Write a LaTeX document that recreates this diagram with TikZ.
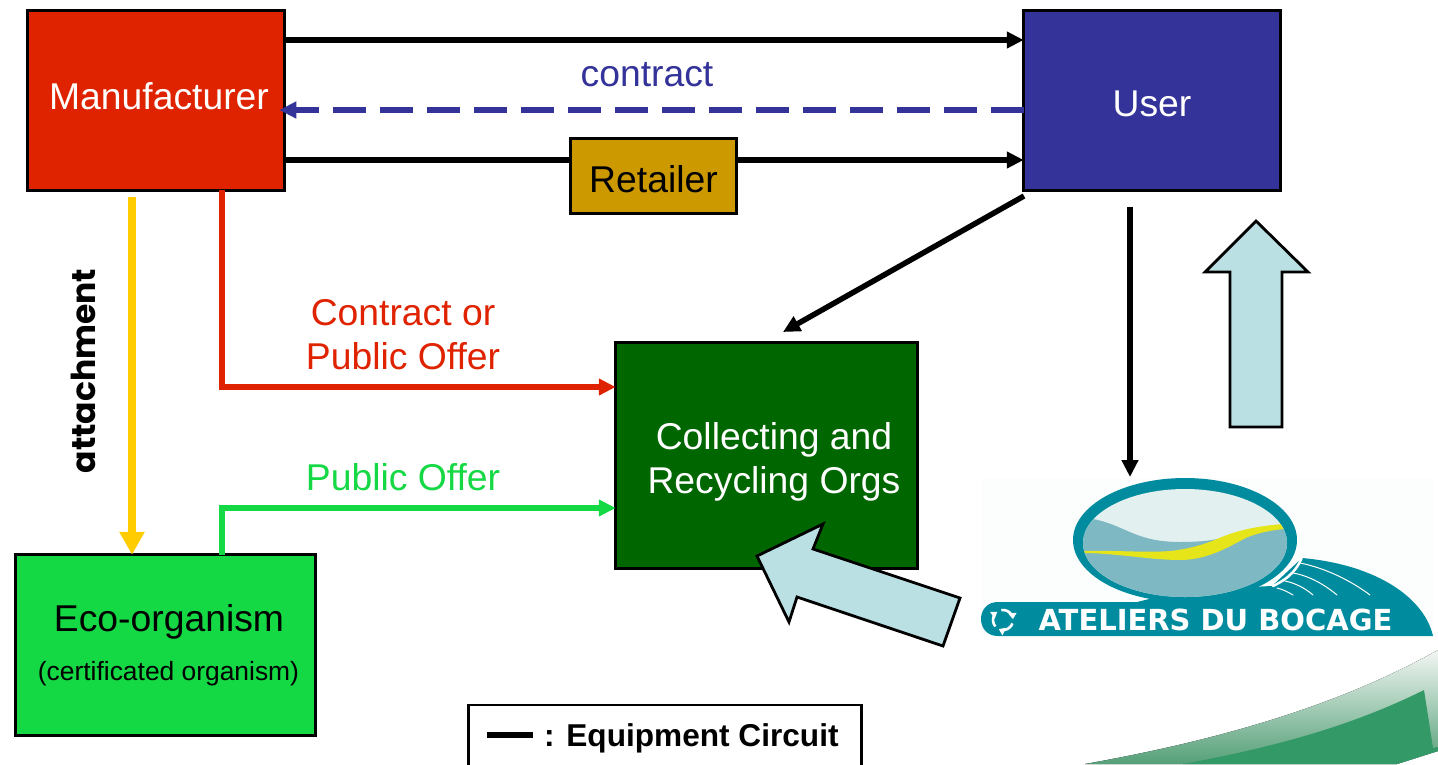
\documentclass[tikz,border=0pt]{standalone}
\usepackage{fontspec}
\setmainfont{Liberation Sans}
\newfontfamily\handfont{Poppins}
\newfontfamily\logofont{DejaVu Sans}
\usetikzlibrary{arrows.meta,calc}
\definecolor{redc}{HTML}{DF2300}
\definecolor{bluec}{HTML}{333399}
\definecolor{goldc}{HTML}{CC9900}
\definecolor{dgreen}{HTML}{006600}
\definecolor{lgreen}{HTML}{14D844}
\definecolor{yellowc}{HTML}{FFCC00}
\definecolor{paleblue}{HTML}{BAE0E3}
\definecolor{teal2}{HTML}{008C9E}
\definecolor{water}{HTML}{7DB8C3}
\definecolor{sky}{HTML}{E3F0F0}
\definecolor{lemon}{HTML}{E5E51A}
\definecolor{swoosh}{HTML}{339966}
\definecolor{swtop}{HTML}{F2F6F3}
\definecolor{swbot}{HTML}{55A078}
\tikzset{
  box/.style={draw=black,line width=2.8pt,inner sep=0pt,outer sep=0pt,rectangle},
  txt/.style={font=\fontsize{37.3}{37.3}\selectfont,inner sep=0pt,outer sep=0pt,align=center},
  link/.style={line width=5.5pt,-{Triangle[length=17pt,width=16pt]}},
  bigarrow/.style={draw=black,line width=2.8pt,fill=paleblue,miter limit=10},
}
\begin{document}
\begin{tikzpicture}[x=1pt,y=-1pt]
\useasboundingbox (0,0) rectangle (1438,764);
\clip (0,0) rectangle (1438,764);
% swoosh
\fill[top color=swtop,bottom color=swbot]
  (1085,764) .. controls (1220,740) and (1340,705) .. (1438,650) -- (1438,751) -- (1397,764) -- cycle;
\fill[swoosh] (1183,764) .. controls (1270,748) and (1350,727) .. (1424,690) -- (1433,748) -- (1438,747) -- (1438,751) -- (1397,764) -- cycle;
% logo
\fill[white!99!teal2] (981,478) rectangle (1433,636);
\fill[teal2] (998,602) .. controls (987,602) and (981,610) .. (981,619) .. controls (981,628) and (987,636) .. (998,636) -- (1433,636)
  .. controls (1425,600) and (1380,565) .. (1302,558) -- (1272,586) -- (1185,590) -- (1137,602) -- cycle;
\draw[white,line width=2.5pt,line cap=round] (1302,557) .. controls (1298,568) and (1290,578) .. (1273,586);
\fill[teal2] (1185,540) ellipse[x radius=112,y radius=62];
\begin{scope}
  \clip (1185,543) ellipse[x radius=102,y radius=54];
  \fill[sky] (1080,485) rectangle (1290,600);
  \fill[water] (1080,517) -- (1093,519) .. controls (1125,525) and (1135,542) .. (1180,542) .. controls (1195,542) and (1208,541) .. (1217,539) -- (1290,524) -- (1290,600) -- (1080,600) -- cycle;
  \fill[lemon] (1083,551) .. controls (1115,550) and (1145,553) .. (1170,551) .. controls (1190,549) and (1205,544) .. (1217,539) .. controls (1240,529) and (1260,526) .. (1283,524) -- (1284,529) .. controls (1265,531) and (1250,535) .. (1240,541) .. controls (1225,549) and (1205,560) .. (1180,560) .. controls (1150,560) and (1115,553) .. (1083,553) -- cycle;
\end{scope}
\draw[white,line width=1pt,line cap=round]
  (1300,563) .. controls (1325,568) and (1350,580) .. (1370,595)
  (1293,573) .. controls (1310,576) and (1325,585) .. (1337,595)
  (1285,581) .. controls (1295,583) and (1305,588) .. (1313,595)
  (1277,588) .. controls (1282,589) and (1288,592) .. (1293,595);
\node[inner sep=0pt,text=white,font=\logofont\bfseries\fontsize{29}{29}\selectfont] (logotext) at (1215.5,620) {ATELIERS DU BOCAGE};
\foreach \a in {20,140,260}{
  \draw[white,line width=2.6pt,-{Triangle[length=6pt,width=8pt]}] (1003,620) ++(\a:10) arc[start angle=\a,end angle=\a+95,radius=10];
}
% boxes
\node[box,fill=redc,minimum width=256.5pt,minimum height=179.5pt] (man) at (156,100.5) {};
\node[box,fill=bluec,minimum width=256.5pt,minimum height=179.5pt] (user) at (1152,100.5) {};
\node[box,fill=goldc,minimum width=165.5pt,minimum height=74.5pt] (ret) at (653.5,176) {};
\node[box,fill=dgreen,minimum width=301.5pt,minimum height=225.5pt] (coll) at (766.5,455.5) {};
\node[box,fill=lgreen,minimum width=299.5pt,minimum height=180.5pt] (eco) at (165.5,645) {};
\node[box,fill=white,minimum width=392.5pt,minimum height=80pt] (legend) at (665,745) {};
% box texts
\node[txt,text=white] (mantext) at (159,96.5) {Manufacturer};
\node[txt,text=white] (usertext) at (1152,104) {User};
\node[txt] (rettext) at (653.5,179) {Retailer};
\node[txt,text=white] (colltext) at (774,462) {Collecting and\\[7pt]Recycling Orgs};
\node[txt] (ecotext) at (169,621.5) {Eco-organism};
\node[txt,font=\fontsize{26.4}{26.4}\selectfont] (ecosub) at (168.5,674) {(certificated organism)};
% connectors
\draw[link] (man.east |- 0,40) -- (user.west |- 0,40);
\draw[link,bluec,dash pattern=on 33pt off 14pt,shorten >=-5pt] (user.west |- 0,110) -- (man.east |- 0,110);
\draw[line width=5.5pt] (man.east |- 0,160) -- (ret.west |- 0,160);
\draw[link] (ret.east |- 0,160) -- (user.west |- 0,160);
\coordinate (userdiag) at (1024,196);
\coordinate (colldiag) at (783,332);
\draw[link] (userdiag) -- (colldiag);
\coordinate (logotop) at (1130,477);
\coordinate (userdown) at (1130,207);
\draw[link] (userdown) -- (logotop);
\coordinate (yellowstart) at (132,197);
\draw[line width=8pt,yellowc,-{Triangle[length=23pt,width=24pt]}] (yellowstart) -- (eco.north -| 132,0);
\draw[link,redc] (man.south -| 222,0) -- (222,387) -- (coll.west |- 0,387);
\draw[link,lgreen] (eco.north -| 222,0) -- (222,508) -- (coll.west |- 0,508);
% big arrows
\draw[bigarrow] (1256,221) -- (1308,272) -- (1282,272) -- (1282,427) -- (1230,427) -- (1230,272) -- (1205,272) -- cycle;
\draw[bigarrow] (757,556) -- (823,524) -- (813,549) -- (960,598) -- (943,646) -- (797,597) -- (789,622) -- cycle;
% labels
\node[txt,text=bluec] (contract) at (647,75) {contract};
\node[txt,text=redc] (cop) at (403,335) {Contract or\\[7pt]Public Offer};
\node[txt,text=lgreen] (po) at (403,477.5) {Public Offer};
\node[inner sep=0pt,rotate=90,font=\handfont\bfseries\fontsize{33}{33}\selectfont] (attach) at (83,371) {attachment};
% legend
\coordinate (lega) at (487,735);
\coordinate (legb) at (533,735);
\draw[line width=5.5pt] (lega) -- (legb);
\node[inner sep=0pt,anchor=west,font=\bfseries\fontsize{31.6}{31.6}\selectfont] (legtext) at (544,738) {: Equipment Circuit};
\end{tikzpicture}
\end{document}
